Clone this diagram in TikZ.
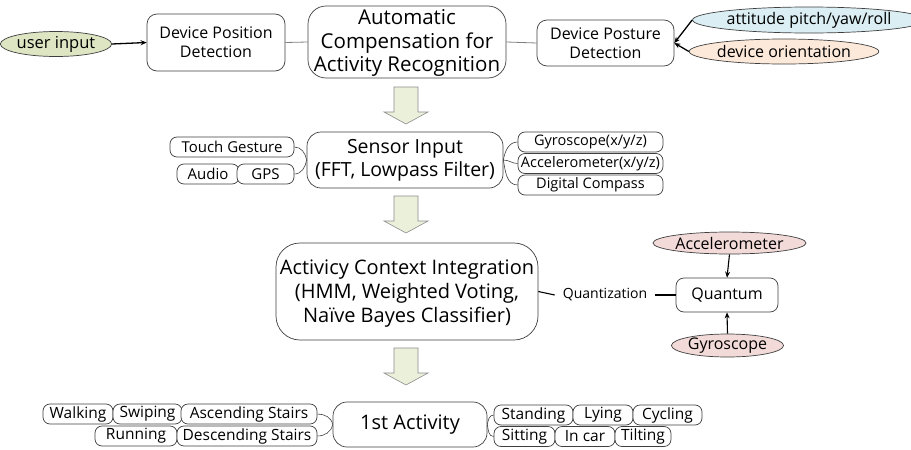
\documentclass[tikz,border=0pt]{standalone}
\usepackage{fontspec}
\setmainfont{Open Sans}
\usetikzlibrary{arrows.meta,shapes.geometric}

\definecolor{edge}{HTML}{3F3F3F}
\definecolor{linkgray}{HTML}{7F7F7F}
\definecolor{olivefill}{HTML}{DDE5C3}
\definecolor{bluefill}{HTML}{DAEEF3}
\definecolor{peachfill}{HTML}{FDE9D9}
\definecolor{pinkfill}{HTML}{F2DAD8}
\definecolor{flowfill}{HTML}{EBF0DA}
\definecolor{flowedge}{HTML}{8C8C8C}

\newcommand{\fs}[1]{\fontsize{#1pt}{\dimexpr #1pt*12/10\relax}\selectfont}

\begin{document}
\begin{tikzpicture}[x=1pt,y=-1pt,
  box/.style={draw=edge, line width=0.7pt, fill=white, align=center, inner sep=0pt},
  bigbox/.style={box, rounded corners=14pt},
  midbox/.style={box, rounded corners=10pt},
  pill/.style={box, rounded corners=7pt, minimum height=20pt, font=\fs{15}},
  oval/.style={ellipse, draw=edge, line width=0.7pt, inner sep=0pt, font=\fs{16}},
  link/.style={draw=linkgray, line width=0.8pt},
  thinlink/.style={draw=edge, line width=0.6pt},
  feed/.style={draw=black, line width=1.3pt, -{Stealth[length=6pt,width=5pt]}},
  flowarrow/.style={draw=flowedge, fill=flowfill, line width=0.6pt},
]
\useasboundingbox (0,0) rectangle (911,450);

% ---------- top row ----------
\node[oval, fill=olivefill, minimum width=103pt, minimum height=25pt, font=\fs{16.5}] (user) at (56,44) {user input};
\node[midbox, minimum width=138pt, minimum height=57pt, font=\fs{16}] (dpos) at (216,42.5) {Device Position\\Detection};
\node[bigbox, rounded corners=18pt, minimum width=198pt, minimum height=72pt, font=\fs{20.5}] (acr) at (407,42)
  {\rule{0pt}{17pt}Automatic\\[-1.5pt]Compensation for\\[-1.5pt]Activity Recognition};
\node[midbox, minimum width=137pt, minimum height=46pt, font=\fs{16}] (dpost) at (605.5,43) {Device Posture\\Detection};
\node[oval, fill=bluefill, minimum width=198pt, minimum height=26pt] (att) at (809,20) {attitude pitch/yaw/roll};
\node[oval, fill=peachfill, minimum width=148pt, minimum height=25pt] (orient) at (784,51.5) {device orientation};

\draw[feed] (user.east) -- (dpos.west);
\draw[link] (dpos.east) -- (acr.west);
\draw[link] (acr.east) -- (dpost.west);
\draw[feed] (att.west) -- (dpost.east);
\draw[feed] (orient.west) -- (dpost.east);

% ---------- sensor row ----------
\node[bigbox, minimum width=196pt, minimum height=56pt, font=\fs{19.5}] (sens) at (405,160) {Sensor Input\\(FFT, Lowpass Filter)};
\node[pill, minimum width=124pt] (touch) at (232,147) {Touch Gesture};
\node[pill, minimum width=62pt] (audio) at (208,174) {Audio};
\node[pill, minimum width=57pt] (gps) at (265.5,174) {GPS};
\node[pill, minimum width=145pt, font=\fs{14.5}] (gyro) at (590.5,142) {Gyroscope(x/y/z)};
\node[pill, minimum width=145pt, font=\fs{14.5}] (accl) at (590.5,163.5) {Accelerometer(x/y/z)};
\node[pill, minimum width=145pt, font=\fs{14.5}] (comp) at (590.5,185) {Digital Compass};

\draw[thinlink] (touch.east) to[out=0,in=100] (sens.west);
\draw[thinlink] (gps.east) to[out=0,in=-100] (sens.west);
\draw[thinlink] (sens.east) to[out=80,in=180] (gyro.west);
\draw[thinlink] (sens.east) to[out=0,in=180] (accl.west);
\draw[thinlink] (sens.east) to[out=-80,in=180] (comp.west);

% ---------- integration row ----------
\node[bigbox, rounded corners=24pt, minimum width=262pt, minimum height=97pt, font=\fs{20}] (integ) at (407,291.5)
  {\rule{0pt}{18pt}Activicy Context Integration\\(HMM, Weighted Voting,\\Naïve Bayes Classifier)};
\node[font=\fs{14}, inner xsep=8pt] (quant) at (605,295) {Quantization};
\node[box, rounded corners=8pt, minimum width=102pt, minimum height=34pt, font=\fs{16}] (qbox) at (727,295) {Quantum};
\node[oval, fill=pinkfill, minimum width=125pt, minimum height=22pt] (accE) at (729.5,243) {Accelerometer};
\node[oval, fill=pinkfill, minimum width=105pt, minimum height=23pt] (gyroE) at (727.5,345.5) {Gyroscope};

\draw[draw=black, line width=1.1pt] (integ.east) -- (quant.west);
\draw[draw=black, line width=1.1pt] (quant.east) -- (qbox.west);
\draw[feed, line width=1.1pt] (accE.south) -- (qbox.north);
\draw[feed, line width=1.1pt] (gyroE.north) -- (qbox.south);

% ---------- activity row ----------
\node[bigbox, minimum width=154pt, minimum height=45pt, font=\fs{20}] (first) at (410,424.5) {1st Activity};
\node[pill, minimum width=70pt, font=\fs{15.5}] (walk) at (78,414) {Walking};
\node[pill, minimum width=69pt, font=\fs{15.5}] (swipe) at (147.5,414) {Swiping};
\node[pill, minimum width=136pt, font=\fs{15.5}] (asc) at (249,414) {Ascending Stairs};
\node[pill, minimum width=82pt, font=\fs{15.5}] (run) at (136,436) {Running};
\node[pill, minimum width=140pt, font=\fs{15.5}] (desc) at (247,436) {Descending Stairs};
\node[pill, minimum width=79pt, font=\fs{15.5}] (stand) at (533.5,415) {Standing};
\node[pill, minimum width=60pt, font=\fs{15.5}] (lie) at (603,415) {Lying};
\node[pill, minimum width=69pt, font=\fs{15.5}] (cycle) at (667.5,415) {Cycling};
\node[pill, minimum width=61pt, font=\fs{15.5}] (sit) at (524.5,436.5) {Sitting};
\node[pill, minimum width=60pt, font=\fs{15.5}] (car) at (585,436.5) {In car};
\node[pill, minimum width=56pt, font=\fs{15.5}] (tilt) at (643,436.5) {Tilting};

\draw[thinlink] (asc.east) to[out=0,in=100] (first.west);
\draw[thinlink] (desc.east) to[out=0,in=-100] (first.west);
\draw[thinlink] (first.east) to[out=80,in=180] (stand.west);
\draw[thinlink] (first.east) to[out=-80,in=180] (sit.west);

% ---------- flow arrows between stages ----------
\foreach \top/\neck/\tip in {87/112/124, 196/221/233, 348/373/385} {
  \draw[flowarrow] (394,\top) -- (418,\top) -- (418,\neck) -- (428,\neck) -- (406,\tip)
    -- (384,\neck) -- (394,\neck) -- cycle;
}
\end{tikzpicture}
\end{document}
